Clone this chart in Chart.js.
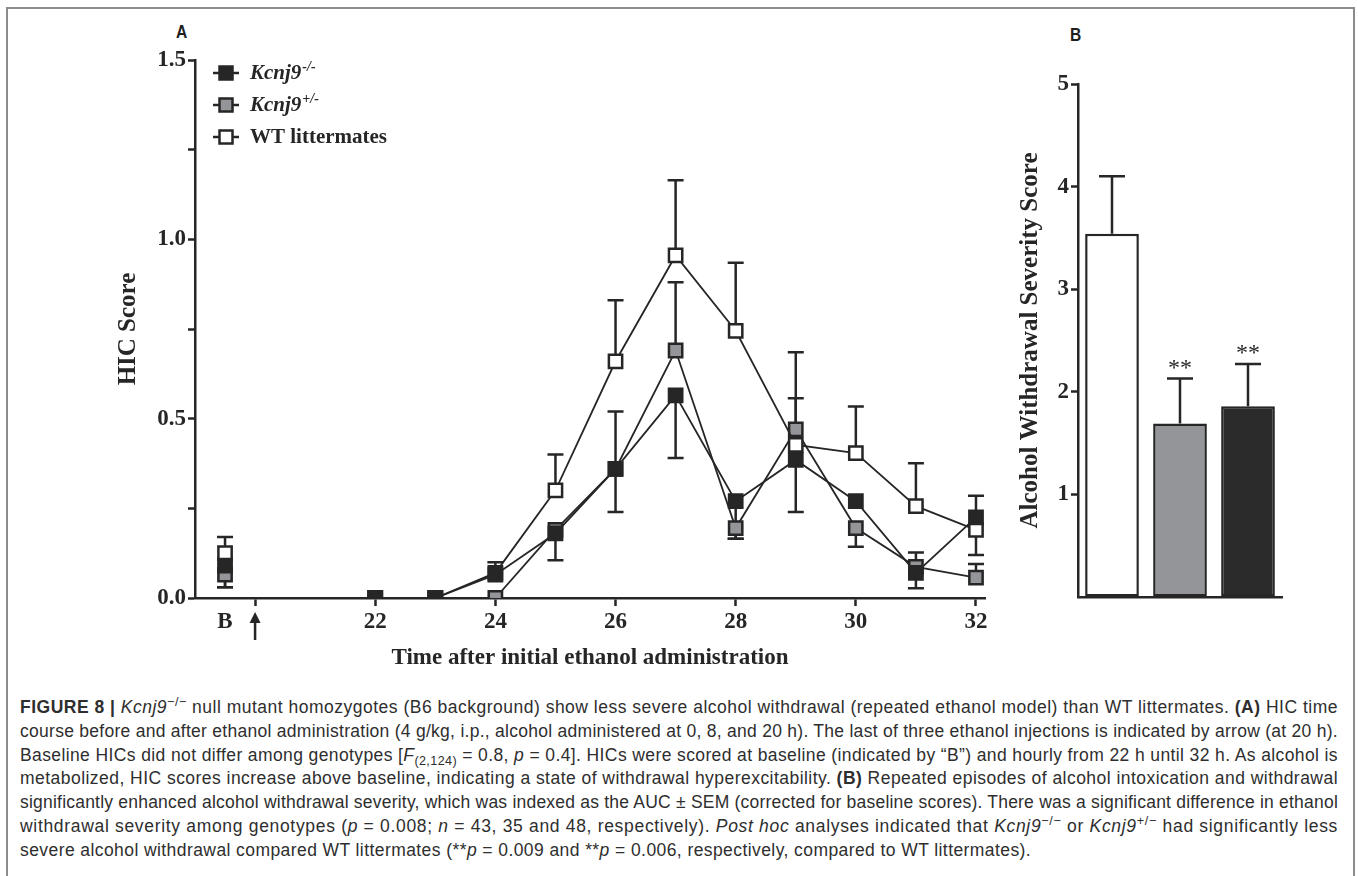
<!DOCTYPE html>
<html>
<head>
<meta charset="utf-8">
<script src="https://cdn.jsdelivr.net/npm/chart.js@4.4.0/dist/chart.umd.min.js"></script>
<style>
  body { margin: 0; background: #fff; width: 1358px; height: 876px; overflow: hidden; position: relative; }
  #frame { position: absolute; left: 6px; top: 7px; width: 1345px; height: 920px; border: 2px solid #8c8c8c; border-bottom: none; }
  .panel { position: absolute; font: bold 19px "Liberation Sans", Arial, sans-serif; color: #1e1e1e; transform: scaleX(0.82); transform-origin: left center; }
  #chartA { position: absolute; left: 0; top: 0; }
  #chartB { position: absolute; left: 1000px; top: 0; }
  #caption { position: absolute; left: 20px; top: 696px; width: 1318px; font: 17.5px "Liberation Sans", Arial, sans-serif; color: #2e2e2e; line-height: 23.8px; }
  #caption .ln { white-space: nowrap; transform-origin: left center; }
  #caption sup { font-size: 0.72em; line-height: 0; vertical-align: 0.55em; }
  #caption sub { font-size: 0.72em; line-height: 0; vertical-align: -0.3em; }
</style>
</head>
<body>
<div id="frame"></div>
<div class="panel" style="left:176px; top:21px">A</div>
<div class="panel" style="left:1070px; top:24px">B</div>
<canvas id="chartA" width="1000" height="690"></canvas>
<canvas id="chartB" width="330" height="690"></canvas>
<div id="caption">
  <div class="ln"><b>FIGURE 8 |</b> <i>Kcnj9</i><sup>−/−</sup> null mutant homozygotes (B6 background) show less severe alcohol withdrawal (repeated ethanol model) than WT littermates. <b>(A)</b> HIC time</div>
  <div class="ln">course before and after ethanol administration (4 g/kg, i.p., alcohol administered at 0, 8, and 20 h). The last of three ethanol injections is indicated by arrow (at 20 h).</div>
  <div class="ln">Baseline HICs did not differ among genotypes [<i>F</i><sub>(2,124)</sub> = 0.8, <i>p</i> = 0.4]. HICs were scored at baseline (indicated by “B”) and hourly from 22 h until 32 h. As alcohol is</div>
  <div class="ln">metabolized, HIC scores increase above baseline, indicating a state of withdrawal hyperexcitability. <b>(B)</b> Repeated episodes of alcohol intoxication and withdrawal</div>
  <div class="ln">significantly enhanced alcohol withdrawal severity, which was indexed as the AUC ± SEM (corrected for baseline scores). There was a significant difference in ethanol</div>
  <div class="ln">withdrawal severity among genotypes (<i>p</i> = 0.008; <i>n</i> = 43, 35 and 48, respectively). <i>Post hoc</i> analyses indicated that <i>Kcnj9</i><sup>−/−</sup> or <i>Kcnj9</i><sup>+/−</sup> had significantly less</div>
  <div class="ln last">severe alcohol withdrawal compared WT littermates (**<i>p</i> = 0.009 and **<i>p</i> = 0.006, respectively, compared to WT littermates).</div>
</div>
<script>
'use strict'

// ---- panel A: HIC time course ----
const hours = [19.5, 22, 23, 24, 25, 26, 27, 28, 29, 30, 31, 32] // 19.5 = baseline slot "B"
const koMean = [0.09, 0, 0, 0.065, 0.18, 0.36, 0.565, 0.27, 0.385, 0.27, 0.07, 0.225]
const koErrUp = [0, 0, 0, 0.035, 0, 0.16, 0, 0, 0, 0, 0, 0.06]
const koErrDown = [0.06, 0, 0, 0, 0, 0, 0.175, 0.105, 0.145, 0, 0.043, 0]
const hetMean = [0.065, 0, 0, 0, 0.19, 0.36, 0.69, 0.195, 0.47, 0.195, 0.087, 0.057]
const hetErrUp = [0, 0, 0, 0, 0, 0, 0.19, 0, 0.215, 0, 0.04, 0.038]
const hetErrDown = [0.035, 0, 0, 0, 0.085, 0.12, 0, 0.03, 0, 0.052, 0, 0]
const wtMean = [0.125, 0, 0, 0.07, 0.30, 0.66, 0.955, 0.745, 0.427, 0.404, 0.256, 0.19]
const wtErrUp = [0.045, 0, 0, 0, 0.10, 0.17, 0.21, 0.19, 0.13, 0.13, 0.12, 0]
const wtErrDown = [0, 0, 0, 0, 0, 0, 0, 0, 0, 0, 0, 0.07]
const xTickValues = [19.5, 20, 22, 24, 26, 28, 30, 32]
const xTickText = ['B', '', '22', '24', '26', '28', '30', '32']
const arrowHour = 20 // last ethanol injection

// ---- panel B: withdrawal severity (AUC) ----
const groups = ['WT littermates', 'Kcnj9+/-', 'Kcnj9-/-']
const severity = [3.54, 1.69, 1.86]
const severitySem = [0.56, 0.44, 0.41]
const sigMarks = ['', '**', '**']

const ink = '#262626'
const serif = '"Liberation Serif", "Times New Roman", serif'
const tickFont = { family: serif, size: 23, weight: 'bold' }
const titleFont = { family: serif, size: 25, weight: 'bold' }

// builds {x,y} points and leaves a gap between baseline and 22 h
const toPoints = mean => {
  const pts = hours.map((h, i) => ({ x: h, y: mean[i] }))
  pts.splice(1, 0, { x: (hours[0] + hours[1]) / 2, y: null })
  return pts
}

const series = [
  { label: 'Kcnj9', sup: '-/-', italic: true, fill: '#262626', mean: koMean, errUp: koErrUp, errDown: koErrDown, order: 0 },
  { label: 'Kcnj9', sup: '+/-', italic: true, fill: '#939598', mean: hetMean, errUp: hetErrUp, errDown: hetErrDown, order: 2 },
  { label: 'WT littermates', sup: '', italic: false, fill: '#ffffff', mean: wtMean, errUp: wtErrUp, errDown: wtErrDown, order: 1 }
]

const errorBarsA = {
  id: 'errorBarsA',
  beforeDatasetsDraw (chart) {
    const { ctx, scales: { x, y } } = chart
    ctx.save()
    ctx.strokeStyle = ink
    ctx.lineWidth = 2.5
    chart.data.datasets.forEach(ds => {
      hours.forEach((h, i) => {
        const px = x.getPixelForValue(h)
        const py = y.getPixelForValue(ds.mean[i])
        const errs = [ds.errUp[i], -ds.errDown[i]]
        errs.forEach(e => {
          if (!e) return
          const pe = y.getPixelForValue(ds.mean[i] + e)
          ctx.beginPath()
          ctx.moveTo(px, py)
          ctx.lineTo(px, pe)
          ctx.moveTo(px - 8, pe)
          ctx.lineTo(px + 8, pe)
          ctx.stroke()
        })
      })
    })
    ctx.restore()
  }
}

// legend drawn by hand so the genotype superscripts can be raised
const legendA = {
  id: 'legendA',
  afterDraw (chart) {
    const ctx = chart.ctx
    ctx.save()
    chart.data.datasets.forEach((ds, i) => {
      const y = 73 + i * 32
      ctx.strokeStyle = ink
      ctx.lineWidth = 2.5
      ctx.beginPath()
      ctx.moveTo(213, y)
      ctx.lineTo(239, y)
      ctx.stroke()
      ctx.fillStyle = ds.fill
      ctx.fillRect(219.5, y - 6.5, 13, 13)
      ctx.strokeRect(219.5, y - 6.5, 13, 13)
      ctx.fillStyle = ink
      ctx.textBaseline = 'middle'
      ctx.font = (ds.italic ? 'italic ' : '') + 'bold 21px ' + serif
      ctx.fillText(ds.label, 250, y + 1)
      if (ds.sup) {
        const w = ctx.measureText(ds.label).width
        ctx.font = 'italic bold 14px ' + serif
        ctx.fillText(ds.sup, 250 + w + 1, y - 6)
      }
    })
    ctx.restore()
  }
}

const arrowA = {
  id: 'arrowA',
  afterDraw (chart) {
    const { ctx, scales: { x } } = chart
    const px = x.getPixelForValue(arrowHour)
    const top = x.top + 14
    ctx.save()
    ctx.strokeStyle = ink
    ctx.fillStyle = ink
    ctx.lineWidth = 2.5
    ctx.beginPath()
    ctx.moveTo(px, top + 8)
    ctx.lineTo(px, top + 28)
    ctx.stroke()
    ctx.beginPath()
    ctx.moveTo(px, top)
    ctx.lineTo(px - 5.5, top + 11)
    ctx.lineTo(px + 5.5, top + 11)
    ctx.closePath()
    ctx.fill()
    ctx.restore()
  }
}

const hicChart = new Chart(document.getElementById('chartA'), {
  type: 'line',
  data: {
    datasets: series.map(s => ({
      ...s,
      data: toPoints(s.mean),
      borderColor: ink,
      borderWidth: 1.8,
      pointStyle: 'rect',
      pointRadius: 9.4,
      pointBorderWidth: 2.5,
      pointBorderColor: ink,
      pointBackgroundColor: s.fill,
      spanGaps: false,
      tension: 0
    }))
  },
  options: {
    responsive: false,
    animation: false,
    layout: { padding: { left: 105, top: 60, right: 15, bottom: 12 } },
    plugins: { legend: { display: false }, tooltip: { enabled: false } },
    scales: {
      x: {
        type: 'linear',
        min: 19,
        max: 32.15,
        afterBuildTicks: scale => { scale.ticks = xTickValues.map(v => ({ value: v })) },
        afterFit: scale => { scale.height = 80 },
        ticks: { callback: (v, i) => xTickText[i], font: tickFont, color: ink, padding: 2, maxRotation: 0, autoSkip: false },
        grid: { drawOnChartArea: false, tickLength: 8, tickWidth: 2.5, tickColor: c => (c.tick && c.tick.value === 19.5 ? 'rgba(0,0,0,0)' : ink) },
        border: { color: ink, width: 2.5 },
        title: { display: true, text: 'Time after initial ethanol administration', font: { family: serif, size: 23, weight: 'bold' }, color: ink, padding: { top: 0, bottom: 6 } }
      },
      y: {
        min: 0,
        max: 1.5,
        afterFit: scale => { scale.width = 90 },
        ticks: { stepSize: 0.25, autoSkip: false, callback: v => (Math.abs(v * 2 - Math.round(v * 2)) < 1e-9 ? v.toFixed(1) : ''), font: tickFont, color: ink, padding: 2 },
        grid: { drawOnChartArea: false, tickLength: 7, tickWidth: 2.5, tickColor: ink },
        border: { color: ink, width: 2.5 },
        title: { display: true, text: 'HIC Score', font: titleFont, color: ink, padding: { top: 9, bottom: 0 } }
      }
    }
  },
  plugins: [errorBarsA, legendA, arrowA]
})

const errorBarsB = {
  id: 'errorBarsB',
  afterDatasetsDraw (chart) {
    const { ctx, scales: { y } } = chart
    ctx.save()
    ctx.strokeStyle = ink
    ctx.fillStyle = ink
    ctx.lineWidth = 2.5
    chart.getDatasetMeta(0).data.forEach((bar, i) => {
      const top = y.getPixelForValue(severity[i])
      const tip = y.getPixelForValue(severity[i] + severitySem[i])
      ctx.beginPath()
      ctx.moveTo(bar.x, top)
      ctx.lineTo(bar.x, tip)
      ctx.moveTo(bar.x - 13, tip)
      ctx.lineTo(bar.x + 13, tip)
      ctx.stroke()
      if (sigMarks[i]) {
        ctx.font = '24px ' + serif
        ctx.textAlign = 'center'
        ctx.textBaseline = 'middle'
        ctx.fillText(sigMarks[i], bar.x, tip - 10)
      }
    })
    ctx.restore()
  }
}

const severityChart = new Chart(document.getElementById('chartB'), {
  type: 'bar',
  data: {
    labels: groups,
    datasets: [{
      data: severity,
      backgroundColor: ['#ffffff', '#939598', '#2b2b2b'],
      borderColor: ink,
      borderWidth: 2.5,
      borderSkipped: false,
      categoryPercentage: 1,
      barPercentage: 0.79
    }]
  },
  options: {
    responsive: false,
    animation: false,
    layout: { padding: { left: 16, top: 84, right: 48, bottom: 12 } },
    plugins: { legend: { display: false }, tooltip: { enabled: false } },
    scales: {
      x: {
        afterFit: scale => { scale.height = 81 },
        ticks: { display: false },
        grid: { display: false },
        border: { color: ink, width: 2.5 }
      },
      y: {
        min: 0,
        max: 5,
        afterFit: scale => { scale.width = 62 },
        ticks: { stepSize: 1, callback: v => (v === 0 ? '' : v), font: tickFont, color: ink, padding: 2 },
        grid: { drawOnChartArea: false, tickLength: 7, tickWidth: 2.5, tickColor: c => (c.tick && c.tick.value === 0 ? 'rgba(0,0,0,0)' : ink) },
        border: { color: ink, width: 2.5 },
        title: { display: true, text: 'Alcohol Withdrawal Severity Score', font: titleFont, color: ink, padding: { top: 0, bottom: 0 } }
      }
    }
  },
  plugins: [errorBarsB]
})

// caption lines filled to the full width by spreading the letters a little
const capWidth = 1318
const lines = Array.from(document.querySelectorAll('#caption .ln'))
const spreads = []
lines.forEach(ln => {
  ln.style.display = 'inline-block'
  const w = ln.getBoundingClientRect().width
  ln.style.display = 'block'
  const chars = ln.textContent.trim().replace(/\s+/g, ' ').length
  if (w > capWidth) {
    ln.style.transform = 'scaleX(' + (capWidth / w) + ')'
  } else if (!ln.classList.contains('last')) {
    const ls = (capWidth - w) / chars
    spreads.push(ls)
    ln.style.letterSpacing = ls + 'px'
  }
})
const avgSpread = spreads.reduce((a, b) => a + b, 0) / Math.max(1, spreads.length)
lines.filter(ln => ln.classList.contains('last')).forEach(ln => { ln.style.letterSpacing = avgSpread + 'px' })
</script>
</body>
</html>
